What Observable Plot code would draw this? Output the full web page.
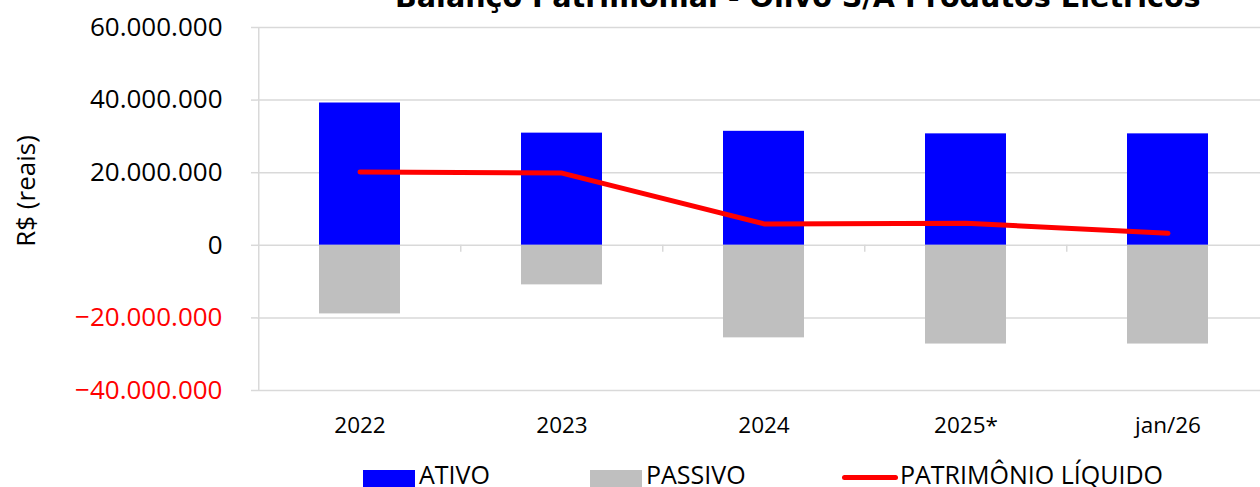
<!DOCTYPE html>
<html>
<head>
<meta charset="utf-8">
<script src="https://cdn.jsdelivr.net/npm/d3@7"></script>
<script src="https://cdn.jsdelivr.net/npm/@observablehq/plot@0.6"></script>
<style>
  html, body { margin: 0; padding: 0; background: #fff; }
  #wrap { position: relative; width: 1260px; height: 487px; overflow: hidden; font-family: "Open Sans", sans-serif; }
  #title { position: absolute; left: 395px; top: -17px; font-family: "DejaVu Sans", sans-serif; font-weight: bold; font-size: 28.6px; line-height: 28.6px; white-space: nowrap; color: #000; }
  #legend { position: absolute; left: 0; top: 457px; width: 1260px; height: 40px; font-size: 25px; color: #000; }
  .sw { position: absolute; }
  .lt { position: absolute; top: 0px; line-height: 34px; white-space: nowrap; }
  #chart { position: absolute; left: 0; top: 0; }
</style>
</head>
<body>
<div id="wrap">
  <div id="chart"></div>
  <div id="title">Balanço Patrimonial - Olivo S/A Produtos Elétricos</div>
  <div id="legend">
    <div class="sw" style="left:363px; top:13px; width:52px; height:17px; background:#0000ff"></div>
    <div class="lt" style="left:419px">ATIVO</div>
    <div class="sw" style="left:590px; top:13px; width:52px; height:17px; background:#bfbfbf"></div>
    <div class="lt" style="left:646px">PASSIVO</div>
    <div class="sw" style="left:842px; top:18px; width:56px; height:5px; border-radius:3px; background:#ff0000"></div>
    <div class="lt" style="left:900px">PATRIMÔNIO LÍQUIDO</div>
  </div>
</div>
<script>
// Data
const categories = ["2022", "2023", "2024", "2025*", "jan/26"];
const ativo = [39200000, 30900000, 31400000, 30700000, 30700000];
const passivo = [-18900000, -10900000, -25500000, -27200000, -27200000];
const patrimonio = [20200000, 19900000, 5900000, 6100000, 3300000];
const yTicksPos = [0, 20000000, 40000000, 60000000];
const yTicksNeg = [-40000000, -20000000];

const rows = categories.map((c, i) => ({cat: c, ativo: ativo[i], passivo: passivo[i], pl: patrimonio[i]}));

const ptBR = d3.formatLocale({decimal: ",", thousands: ".", grouping: [3], currency: ["R$", ""]});
const fmt = ptBR.format(",d");

const W = 1260, H = 487;
const mLeft = 257, mTop = 27, mBottom = 97;
const xRange = [257, 1269.5];
const step = (xRange[1] - xRange[0]) / categories.length;
const gridColor = "#d9d9d9";

const chart = Plot.plot({
  width: W,
  height: H,
  marginLeft: mLeft,
  marginRight: 0,
  marginTop: mTop,
  marginBottom: mBottom,
  style: {fontFamily: "'Open Sans', sans-serif", background: "transparent", overflow: "visible"},
  x: {domain: categories, range: xRange, paddingInner: 0.6, paddingOuter: 0.3, label: null},
  y: {domain: [-40000000, 60000000], label: null},
  marks: [
    Plot.ruleY(yTicksNeg.concat(yTicksPos), {stroke: gridColor, strokeWidth: 1.5}),
    Plot.barY(rows, {x: "cat", y: "ativo", fill: "#0000ff"}),
    Plot.barY(rows, {x: "cat", y: "passivo", fill: "#bfbfbf"}),
    Plot.ruleX([categories[0]], {x: d => d, dx: -step / 2, y1: () => -40000000, y2: () => 60000000, stroke: gridColor, strokeWidth: 1.5}),
    Plot.ruleX(categories.slice(1), {x: d => d, dx: -step / 2, y1: () => 0, y2: () => 0, insetBottom: -7, stroke: gridColor, strokeWidth: 1.5}),
    Plot.lineY(rows, {x: "cat", y: "pl", stroke: "#ff0000", strokeWidth: 5, strokeLinecap: "round", strokeLinejoin: "round"}),
    Plot.axisY(yTicksPos, {tickSize: 6, tickPadding: 29, stroke: gridColor, strokeWidth: 1.5, fill: "#000", fontSize: 26, tickFormat: fmt, label: null}),
    Plot.axisY(yTicksNeg, {tickSize: 6, tickPadding: 29, stroke: gridColor, strokeWidth: 1.5, fill: "#ff0000", fontSize: 26, tickFormat: fmt, label: null}),
    Plot.axisX({tickSize: 0, tickPadding: 27, fill: "#000", fontSize: 22.5, label: null}),
    Plot.text(["R$ (reais)"], {frameAnchor: "left", textAnchor: "middle", dx: -231, dy: -18, rotate: -90, fontSize: 26, fill: "#000"})
  ]
});
document.getElementById("chart").appendChild(chart);
</script>
</body>
</html>
